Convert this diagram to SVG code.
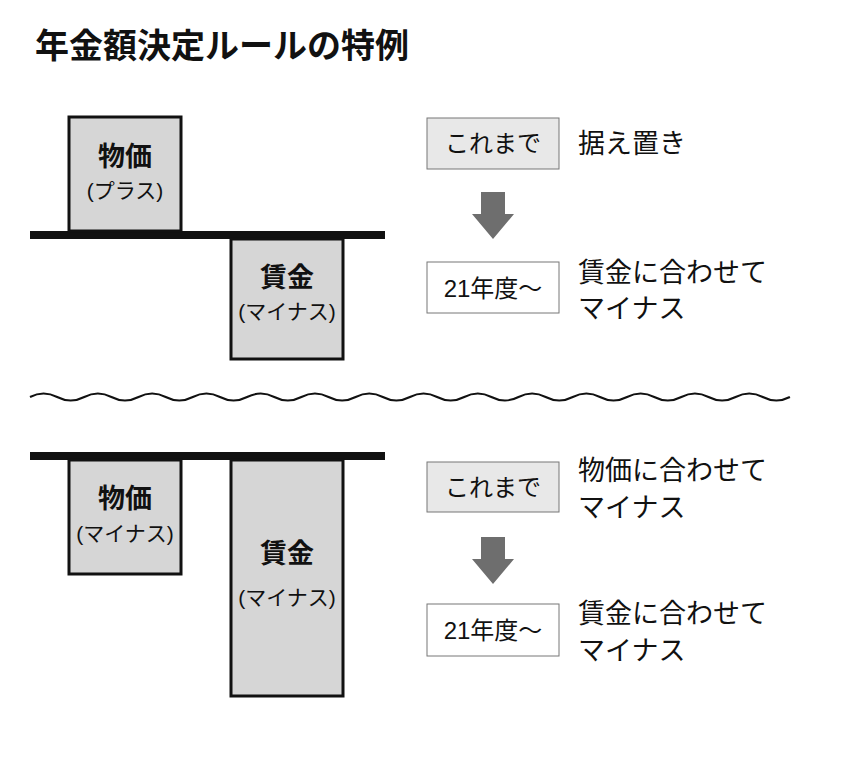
<svg xmlns="http://www.w3.org/2000/svg" width="846" height="770" viewBox="0 0 846 770">
<style>
text{font-family:"Liberation Sans","Noto Sans CJK JP",sans-serif;fill:#111}
.t{font-size:34px;font-weight:bold}
.bx{fill:#d6d6d6;stroke:#111;stroke-width:3}
.big{font-size:27px;font-weight:bold;text-anchor:middle}
.sm{font-size:21px;text-anchor:middle}
.lab{font-size:24px;text-anchor:middle}
.r{font-size:27px}
.gray{fill:#e8e8e8;stroke:#777;stroke-width:1}
.white{fill:#fff;stroke:#777;stroke-width:1}
.bar{fill:#111}
.arr{fill:#6e6e6e}
</style>
<rect width="846" height="770" fill="#fff"/>
<text class="t" x="35" y="58">年金額決定ルールの特例</text>
<g id="top-bar"><rect class="bar" x="30" y="231" width="355" height="8"/></g>
<g id="top-bukka"><rect class="bx" x="69" y="117" width="112" height="114"/><text class="big" x="125" y="166">物価</text><text class="sm" x="125" y="198">(プラス)</text></g>
<g id="top-chingin"><rect class="bx" x="231" y="239" width="112" height="120"/><text class="big" x="287" y="287">賃金</text><text class="sm" x="287" y="319">(マイナス)</text></g>
<g id="top-kore"><rect class="gray" x="427" y="118" width="132" height="51"/><text class="lab" x="493" y="152">これまで</text><text class="r" x="578" y="153">据え置き</text></g>
<g id="top-21"><rect class="white" x="427" y="262" width="132" height="51"/><text class="lab" x="493" y="297">21年度～</text><text class="r" x="578" y="282">賃金に合わせて</text><text class="r" x="578" y="318">マイナス</text></g>
<g id="wave"><path d="M30 397 q13.57 -7 27.14 0 t27.14 0 t27.14 0 t27.14 0 t27.14 0 t27.14 0 t27.14 0 t27.14 0 t27.14 0 t27.14 0 t27.14 0 t27.14 0 t27.14 0 t27.14 0 t27.14 0 t27.14 0 t27.14 0 t27.14 0 t27.14 0 t27.14 0 t27.14 0 t27.14 0 t27.14 0 t27.14 0 t27.14 0 t27.14 0 t27.14 0 t27.14 0" fill="none" stroke="#111" stroke-width="2"/></g>
<g id="bot-bar"><rect class="bar" x="30" y="452" width="355" height="8"/></g>
<g id="bot-bukka"><rect class="bx" x="69" y="460" width="112" height="114"/><text class="big" x="125" y="508">物価</text><text class="sm" x="125" y="541">(マイナス)</text></g>
<g id="bot-chingin"><rect class="bx" x="231" y="460" width="112" height="236"/><text class="big" x="287" y="563">賃金</text><text class="sm" x="287" y="605">(マイナス)</text></g>
<g id="bot-kore"><rect class="gray" x="427" y="462" width="132" height="50"/><text class="lab" x="493" y="496">これまで</text><text class="r" x="578" y="480">物価に合わせて</text><text class="r" x="578" y="517">マイナス</text></g>
<g id="bot-21"><rect class="white" x="427" y="604" width="132" height="52"/><text class="lab" x="493" y="639">21年度～</text><text class="r" x="578" y="623">賃金に合わせて</text><text class="r" x="578" y="660">マイナス</text></g>
<g id="connectors">
<polygon class="arr" points="481,192 505,192 505,214 514,214 493,239 472,214 481,214"/>
<polygon class="arr" points="481,537 505,537 505,559 514,559 493,584 472,559 481,559"/>
</g>
</svg>
